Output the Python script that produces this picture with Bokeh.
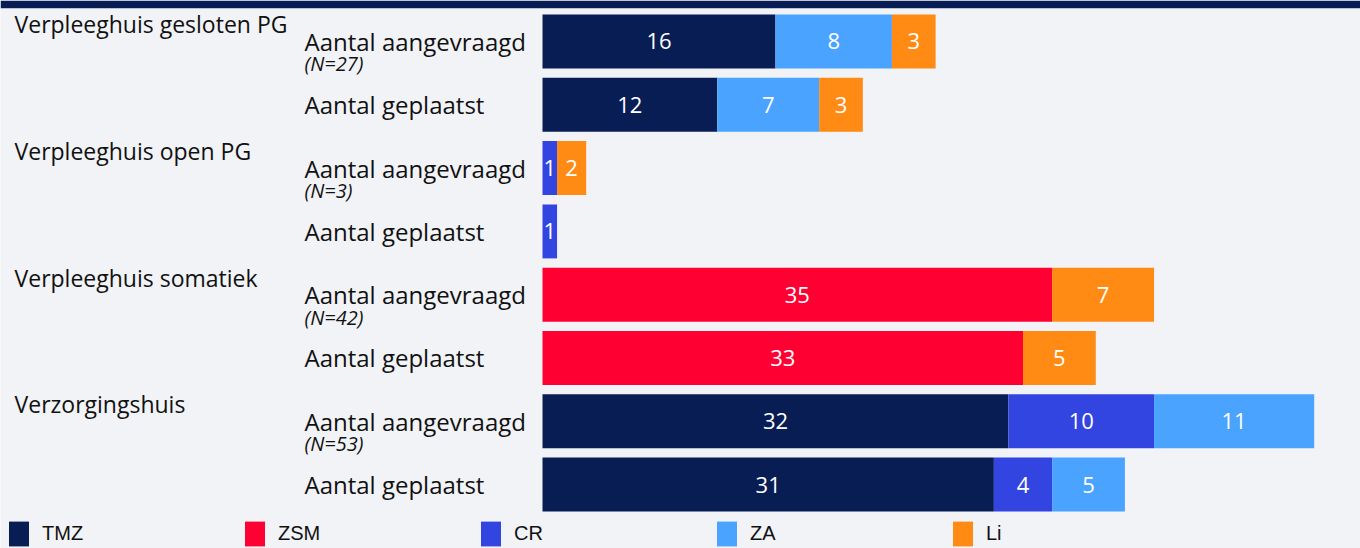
from bokeh.plotting import figure
from bokeh.models import ColumnDataSource, Range1d, Legend, LegendItem
from bokeh.core.properties import value
from bokeh.embed import file_html
from bokeh.resources import INLINE

# ---- data ----
groups = ["Verpleeghuis gesloten PG", "Verpleeghuis open PG",
          "Verpleeghuis somatiek", "Verzorgingshuis"]
group_n = ["(N=27)", " (N=3)", "(N=42)", "(N=53)"]
row_labels = ["Aantal aangevraagd", "Aantal geplaatst"] * 4
series = ["TMZ", "ZSM", "CR", "ZA", "Li"]
TMZ = [16, 12, 0, 0, 0, 0, 32, 31]
ZSM = [0, 0, 0, 0, 35, 33, 0, 0]
CR = [0, 0, 1, 1, 0, 0, 10, 4]
ZA = [8, 7, 0, 0, 0, 0, 11, 5]
Li = [3, 3, 2, 0, 7, 5, 0, 0]
colors = ["#071d53", "#ff0033", "#3345e0", "#4aa3ff", "#ff8a14"]

BG = "#f1f3f7"
BAND = "#071d53"
FONT = "Open Sans"

rows = list(range(len(row_labels)))
data = dict(row=rows, TMZ=TMZ, ZSM=ZSM, CR=CR, ZA=ZA, Li=Li)
src = ColumnDataSource(data)

p = figure(width=1360, height=548, output_backend="svg", toolbar_location=None,
           x_range=Range1d(-37.225, 56.18), y_range=Range1d(8.0095, -0.5213),
           min_border_left=0, min_border_right=0, min_border_bottom=0,
           min_border_top=8,
           background_fill_color=BG, border_fill_color=BAND,
           outline_line_color=None)
p.axis.visible = False
p.grid.visible = False

renderers = p.hbar_stack(series, y="row", height=0.853, color=colors,
                         source=src, line_color=None)

# value labels in segments
vx, vy, vt = [], [], []
for i in rows:
    left = 0
    for s in series:
        v = data[s][i]
        if v > 0:
            vx.append(left + v / 2)
            vy.append(i)
            vt.append(str(v))
        left += v
p.text(x=vx, y=vy, text=vt, text_color="white", text_align="center",
       text_baseline="middle", text_font=value(FONT), text_font_size="22px")

# row labels
p.text(x=[-16.346] * len(rows), y=rows, text=row_labels, text_color="#111111",
       text_align="left", text_baseline="middle", text_font=value(FONT),
       text_font_size="24px")

# group labels
gy = [2 * g - 0.27 for g in range(len(groups))]
p.text(x=[-36.263] * len(groups), y=gy, text=groups, text_color="#111111",
       text_align="left", text_baseline="middle", text_font=value(FONT),
       text_font_size="23px")

# N labels
ny = [2 * g + 0.355 for g in range(len(groups))]
p.text(x=[-16.346] * len(groups), y=ny, text=group_n, text_color="#111111",
       text_align="left", text_baseline="middle", text_font=value(FONT),
       text_font_size="20px", text_font_style="italic")

# legend: one per series at fixed spacing
for k, (s, r) in enumerate(zip(series, renderers)):
    lg = Legend(items=[LegendItem(label=s, renderers=[r])],
                location=(6 + 236 * k, -1), orientation="horizontal",
                padding=0, margin=0, spacing=0,
                glyph_width=25, glyph_height=31, label_standoff=11,
                label_text_font="Liberation Sans",
                label_text_font_size="20px", label_text_color="#111111",
                background_fill_alpha=0, border_line_alpha=0)
    p.add_layout(lg, "center")

open("out.html", "w").write(file_html(p, INLINE))
